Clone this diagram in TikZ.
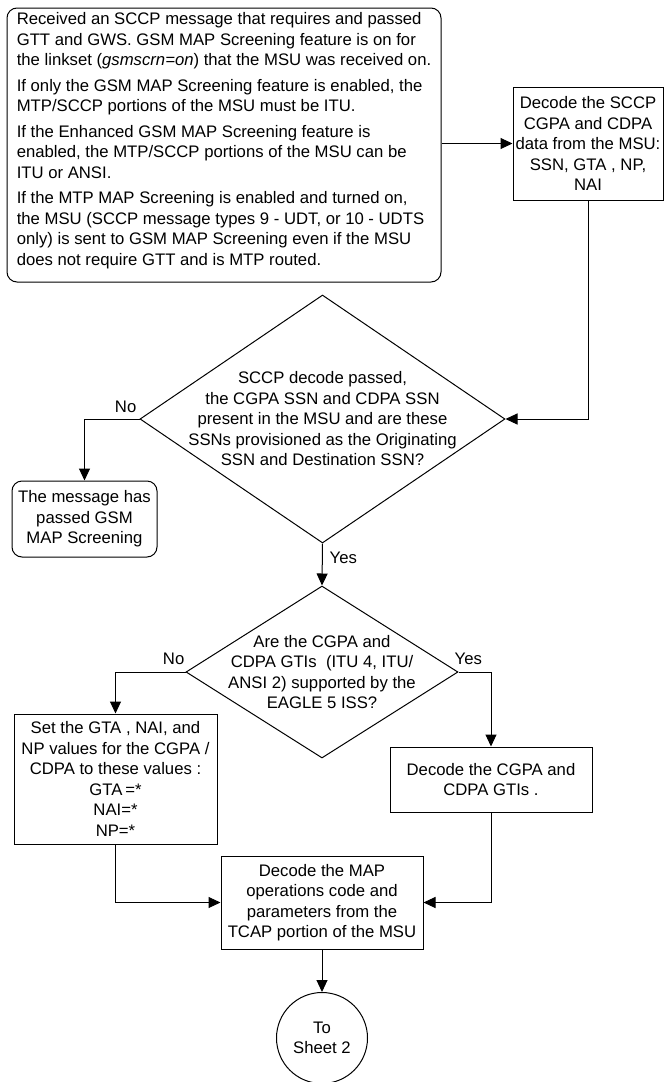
\documentclass[tikz,border=0pt]{standalone}
\usepackage{fontspec}
\setmainfont{Liberation Sans}
\usetikzlibrary{shapes.geometric,arrows.meta,calc}
\begin{document}
\begin{tikzpicture}[x=1pt,y=-1pt,
  every node/.style={font=\fontsize{16.7}{20.5}\selectfont, inner sep=0pt},
  box/.style={draw, line width=1pt, align=center},
  rbox/.style={box, rounded corners=10pt},
  dia/.style={draw, diamond, line width=1pt},
  arr/.style={line width=1pt, -{Triangle[length=12pt,width=11pt]}}]
\useasboundingbox (0,0) rectangle (665,1082);

\node[rbox, minimum width=434, minimum height=274, align=left] (start) at (224,145)
 {Received an SCCP message that requires and passed\\
  GTT and GWS. GSM MAP Screening feature is on for\\
  the linkset (\textit{gsmscrn=on}) that the MSU was received on.\\[5pt]
  If only the GSM MAP Screening feature is enabled, the\\
  MTP/SCCP portions of the MSU must be ITU.\\[5pt]
  If the Enhanced GSM MAP Screening feature is\\
  enabled, the MTP/SCCP portions of the MSU can be\\
  ITU or ANSI.\\[5pt]
  If the MTP MAP Screening is enabled and turned on,\\
  the MSU (SCCP message types 9 - UDT, or 10 - UDTS\\
  only) is sent to GSM MAP Screening even if the MSU\\
  does not require GTT and is MTP routed.\rule[-12pt]{0pt}{0pt}};

\node[box, minimum width=150, minimum height=113] (b2) at (588,143.5)
 {Decode the SCCP\\ CGPA and CDPA\\ data from the MSU:\\ SSN, GTA , NP,\\ NAI};

\node[dia, minimum width=365, minimum height=248] (d1) at (322.5,419) {};
\node[align=center] (d1t) at (d1.center)
 {SCCP decode passed,\\ the CGPA SSN and CDPA SSN\\ present in the MSU and are these\\ SSNs provisioned as the Originating\\ SSN and Destination SSN?};

\node[rbox, minimum width=145, minimum height=76] (msg) at (84.5,519)
 {The message has\\ passed GSM\\ MAP Screening};

\node[dia, minimum width=272, minimum height=172] (d2) at (322,672) {};
\node[align=center] (d2t) at (d2.center)
 {Are the CGPA and\\ CDPA GTIs\ \ (ITU 4, ITU/\\ ANSI 2) supported by the\\ EAGLE 5 ISS?};

\node[box, minimum width=203, minimum height=130] (b3) at (115.5,779)
 {Set the GTA , NAI, and\\ NP values for the CGPA /\\ CDPA to these values :\\ GTA\,=*\\ NAI=*\\ NP=*};

\node[box, minimum width=202, minimum height=65] (b4) at (491,779.5)
 {Decode the CGPA and\\ CDPA GTIs .};

\node[box, minimum width=202, minimum height=93] (b5) at (322,902.5)
 {Decode the MAP\\ operations code and\\ parameters from the\\ TCAP portion of the MSU};

\node[draw, circle, line width=1pt, minimum size=91, align=center] (c) at (322,1038)
 {To\\ Sheet 2};

\draw[arr] (start.east |- b2.west) -- (b2.west);
\draw[arr] (b2.south) |- (d1.east);
\draw[arr] (d1.west) -| (msg.north);
\draw[arr] (d1.south) -- (d2.north);
\draw[arr] (d2.west) -| (b3.north);
\draw[arr] (d2.east) -| (b4.north);
\draw[arr] (b3.south) |- (b5.west);
\draw[arr] (b4.south) |- (b5.east);
\draw[arr] (b5.south) -- (c.north);

\node[anchor=south east] (no1) at ($(d1.west)+(-3,-6)$) {No};
\node[anchor=west] (yes1) at ($(d1.south)+(7,14)$) {Yes};
\node[anchor=south east] (no2) at ($(d2.west)+(-1,-7)$) {No};
\node[anchor=south west] (yes2) at ($(d2.east)+(-4,-7)$) {Yes};
\end{tikzpicture}
\end{document}
